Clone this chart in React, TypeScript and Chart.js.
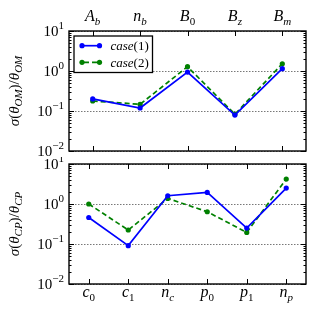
import React, { useEffect, useRef } from 'react';
import { Chart, registerables } from 'chart.js';

Chart.register(...registerables);

const topCategories = ['A_b', 'n_b', 'B_0', 'B_z', 'B_m'];
const bottomCategories = ['c_0', 'c_1', 'n_c', 'p_0', 'p_1', 'n_p'];
const topCase1 = [0.2, 0.119, 0.94, 0.079, 1.14];
const topCase2 = [0.178, 0.147, 1.28, 0.083, 1.52];
const bottomCase1 = [0.46, 0.091, 1.61, 1.95, 0.25, 2.5];
const bottomCase2 = [1.0, 0.224, 1.38, 0.64, 0.195, 4.2];
const yTickValues = [0.01, 0.1, 1, 10];
const yTickExponents = ['\u22122', '\u22121', '0', '1'];
const seriesLabels = ['case(1)', 'case(2)'];
const topTitleSub = 'OM';
const bottomTitleSub = 'CP';

const MATH = '"Liberation Serif", "DejaVu Serif", serif';
const BLUE = '#0000ff';
const GREEN = '#008000';

type Part = { t: string; it?: boolean; s?: 'sub' | 'sup' };

function fontFor(p: Part, fs: number) {
  const size = p.s ? Math.round(fs * 0.7) : fs;
  return `${p.it ? 'italic ' : ''}${size}px ${MATH}`;
}

function partsWidth(ctx: CanvasRenderingContext2D, parts: Part[], fs: number) {
  let w = 0;
  for (const p of parts) {
    ctx.font = fontFor(p, fs);
    w += ctx.measureText(p.t).width;
  }
  return w;
}

function drawParts(
  ctx: CanvasRenderingContext2D,
  parts: Part[],
  x: number,
  y: number,
  fs: number,
  align: 'left' | 'center' | 'right'
) {
  const w = partsWidth(ctx, parts, fs);
  let cx = align === 'left' ? x : align === 'center' ? x - w / 2 : x - w;
  ctx.textAlign = 'left';
  ctx.textBaseline = 'alphabetic';
  for (const p of parts) {
    ctx.font = fontFor(p, fs);
    const dy = p.s === 'sub' ? fs * 0.22 : p.s === 'sup' ? -fs * 0.45 : 0;
    ctx.fillText(p.t, cx, y + dy);
    cx += ctx.measureText(p.t).width;
  }
}

function labelParts(label: string): Part[] {
  const [base, sub] = label.split('_');
  const parts: Part[] = [{ t: base, it: true }];
  if (sub) parts.push({ t: sub, it: !/^[0-9]+$/.test(sub), s: 'sub' });
  return parts;
}

function legendParts(label: string): Part[] {
  const m = label.match(/^([a-z]+)(.*)$/i);
  if (!m) return [{ t: label }];
  return [{ t: m[1], it: true }, { t: m[2] }];
}

function titleParts(sub: string): Part[] {
  return [
    { t: '\u03c3', it: true },
    { t: '(' },
    { t: '\u03b8', it: true },
    { t: sub, it: true, s: 'sub' },
    { t: ')' },
    { t: '/' },
    { t: '\u03b8', it: true },
    { t: sub, it: true, s: 'sub' },
  ];
}

type PanelProps = {
  categories: string[];
  case1: number[];
  case2: number[];
  xPos: 'top' | 'bottom';
  titleSub: string;
  showLegend: boolean;
  height: number;
  padTop: number;
  padBottom: number;
  xLabelBaseline: number;
};

function Panel(props: PanelProps) {
  const ref = useRef<HTMLCanvasElement | null>(null);

  useEffect(() => {
    const canvas = ref.current;
    if (!canvas) return;

    const decorPlugin = {
      id: 'decor',
      afterDraw(chart: any) {
        const ctx: CanvasRenderingContext2D = chart.ctx;
        const { left, right, top, bottom } = chart.chartArea;
        const xs = chart.scales.x;
        const ys = chart.scales.y;
        ctx.save();
        ctx.fillStyle = '#000';
        ctx.strokeStyle = '#000';

        // ticks (inward)
        ctx.lineWidth = 1;
        ctx.beginPath();
        for (let d = 0; d < yTickValues.length; d++) {
          const v = yTickValues[d];
          const y = Math.round(ys.getPixelForValue(v)) + 0.5;
          ctx.moveTo(left, y);
          ctx.lineTo(left + 5, y);
          ctx.moveTo(right, y);
          ctx.lineTo(right - 5, y);
          if (d < yTickValues.length - 1) {
            for (let m = 2; m <= 9; m++) {
              const ym = Math.round(ys.getPixelForValue(v * m)) + 0.5;
              ctx.moveTo(left, ym);
              ctx.lineTo(left + 2.5, ym);
              ctx.moveTo(right, ym);
              ctx.lineTo(right - 2.5, ym);
            }
          }
        }
        for (let i = 0; i < props.categories.length; i++) {
          const x = Math.round(xs.getPixelForTick(i)) + 0.5;
          ctx.moveTo(x, top);
          ctx.lineTo(x, top + 5);
          ctx.moveTo(x, bottom);
          ctx.lineTo(x, bottom - 5);
        }
        ctx.stroke();

        // frame
        ctx.lineWidth = 1.4;
        ctx.strokeRect(left, top, right - left, bottom - top);

        // y tick labels
        for (let d = 0; d < yTickValues.length; d++) {
          const y = ys.getPixelForValue(yTickValues[d]);
          drawParts(ctx, [{ t: '10' }, { t: yTickExponents[d], s: 'sup' }], left - 5, y + 5, 15, 'right');
        }

        // x tick labels
        for (let i = 0; i < props.categories.length; i++) {
          const x = xs.getPixelForTick(i);
          drawParts(ctx, labelParts(props.categories[i]), x, props.xLabelBaseline, 16, 'center');
        }

        // y title
        ctx.save();
        ctx.translate(19, (top + bottom) / 2);
        ctx.rotate(-Math.PI / 2);
        drawParts(ctx, titleParts(props.titleSub), 0, 0, 15, 'center');
        ctx.restore();

        // legend
        if (props.showLegend) {
          const bx = 74, by = 36, bw = 78.5, bh = 36.5;
          ctx.fillStyle = '#fff';
          ctx.fillRect(bx, by, bw, bh);
          ctx.lineWidth = 1.3;
          ctx.strokeStyle = '#000';
          ctx.strokeRect(bx, by, bw, bh);
          const rows = [45.7, 62.3];
          chart.data.datasets.forEach((ds: any, k: number) => {
            const ry = rows[k];
            ctx.strokeStyle = ds.borderColor;
            ctx.fillStyle = ds.borderColor;
            ctx.lineWidth = ds.borderWidth;
            ctx.setLineDash(ds.borderDash || []);
            ctx.lineDashOffset = ds.borderDash ? -2 : 0;
            ctx.beginPath();
            ctx.moveTo(82, ry);
            ctx.lineTo(99.5, ry);
            ctx.stroke();
            ctx.setLineDash([]);
            for (const px of [82, 99.5]) {
              ctx.beginPath();
              ctx.arc(px, ry, ds.pointRadius, 0, Math.PI * 2);
              ctx.fill();
            }
            ctx.fillStyle = '#000';
            drawParts(ctx, legendParts(ds.label), 110.5, ry + 4.5, 13, 'left');
          });
        }
        ctx.restore();
      },
    };

    const chart = new Chart(canvas, {
      type: 'line',
      data: {
        labels: props.categories,
        datasets: [
          {
            label: seriesLabels[0],
            data: props.case1,
            borderColor: BLUE,
            backgroundColor: BLUE,
            borderWidth: 1.7,
            pointRadius: 2.6,
            pointBorderWidth: 0,
            pointBackgroundColor: BLUE,
            tension: 0,
          },
          {
            label: seriesLabels[1],
            data: props.case2,
            borderColor: GREEN,
            backgroundColor: GREEN,
            borderWidth: 1.7,
            borderDash: [5, 3],
            pointRadius: 2.6,
            pointBorderWidth: 0,
            pointBackgroundColor: GREEN,
            tension: 0,
          },
        ],
      },
      options: {
        responsive: false,
        animation: false,
        layout: { padding: { left: 0, right: 9, top: props.padTop, bottom: props.padBottom } },
        plugins: { legend: { display: false }, tooltip: { enabled: false } },
        scales: {
          x: {
            type: 'category',
            position: props.xPos,
            offset: true,
            grid: { display: false, drawTicks: false },
            border: { display: false },
            ticks: { display: false },
            afterFit(scale: any) {
              scale.height = 31;
            },
          },
          y: {
            type: 'logarithmic',
            min: 0.01,
            max: 10,
            grid: { display: true, drawTicks: false, color: '#555', lineWidth: 0.8 },
            border: { display: false, dash: [1.5, 1.5] },
            ticks: { display: false },
            afterBuildTicks(scale: any) {
              scale.ticks = yTickValues.map((v) => ({ value: v }));
            },
            afterFit(scale: any) {
              scale.width = 69;
            },
          },
        },
      },
      plugins: [decorPlugin],
    } as any);

    return () => chart.destroy();
  }, []);

  return <canvas ref={ref} width={315} height={props.height} style={{ display: 'block' }} />;
}

export default function App() {
  return (
    <div style={{ position: 'fixed', left: 0, top: 0, width: 315, height: 315, background: '#fff' }}>
      <Panel
        categories={topCategories}
        case1={topCase1}
        case2={topCase2}
        xPos="top"
        titleSub={topTitleSub}
        showLegend={true}
        height={157}
        padTop={0}
        padBottom={6}
        xLabelBaseline={21}
      />
      <Panel
        categories={bottomCategories}
        case1={bottomCase1}
        case2={bottomCase2}
        xPos="bottom"
        titleSub={bottomTitleSub}
        showLegend={false}
        height={158}
        padTop={7}
        padBottom={0}
        xLabelBaseline={140}
      />
    </div>
  );
}
